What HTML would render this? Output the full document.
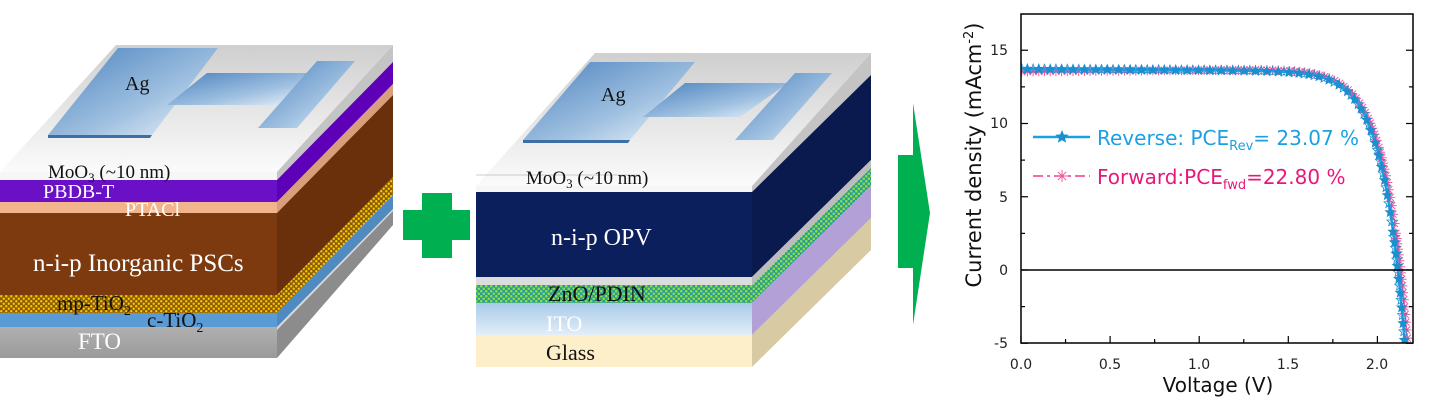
<!DOCTYPE html>
<html><head><meta charset="utf-8"><style>
html,body{margin:0;padding:0;background:#fff;width:1430px;height:406px;overflow:hidden}
svg{display:block}
.serif{font-family:"Liberation Serif",serif}
.sans{font-family:"DejaVu Sans","Liberation Sans",sans-serif}
</style></head><body>
<svg id="s" width="1430" height="406" viewBox="0 0 1430 406" xmlns="http://www.w3.org/2000/svg">
<defs>
<pattern id="chkY" width="5" height="5" patternUnits="userSpaceOnUse">
<rect width="5" height="5" fill="#8a5a08"/><circle cx="1.25" cy="1.25" r="1.2" fill="#f7c800"/><circle cx="3.75" cy="3.75" r="1.2" fill="#f7c800"/>
</pattern>
<pattern id="chkG" width="5" height="5" patternUnits="userSpaceOnUse">
<rect width="5" height="5" fill="#2a9a9a"/><circle cx="1.25" cy="1.25" r="1.3" fill="#8de040"/><circle cx="3.75" cy="3.75" r="1.3" fill="#8de040"/>
</pattern>
<linearGradient id="topG" x1="0" y1="0" x2="0" y2="1"><stop offset="0" stop-color="#cfcfcf"/><stop offset="1" stop-color="#fbfbfb"/></linearGradient>
<linearGradient id="agG" x1="0" y1="0" x2="1" y2="1"><stop offset="0" stop-color="#4b82bf"/><stop offset="0.6" stop-color="#9fc0e0"/><stop offset="1" stop-color="#f0f6fb"/></linearGradient>
<linearGradient id="itoG" x1="0" y1="0" x2="0" y2="1"><stop offset="0" stop-color="#a8cbe9"/><stop offset="1" stop-color="#e3eef8"/></linearGradient>
<linearGradient id="ftoG" x1="0" y1="0" x2="0" y2="1"><stop offset="0" stop-color="#b0b0b0"/><stop offset="1" stop-color="#9a9a9a"/></linearGradient>
<clipPath id="plot"><rect x="1021" y="14" width="392" height="329"/></clipPath>
</defs>

<!-- LEFT DEVICE -->
<polygon points="0,172 277,172 393,45 116,45" fill="url(#topG)"/>
<polygon points="277,172 393,45 393,62 277,180" fill="#c4c4c4"/>
<rect x="0" y="172" width="277" height="8" fill="#f6f6f6"/>
<polygon points="277,180 393,62 393,84 277,202" fill="#5e00b8"/>
<polygon points="277,202 393,84 393,95 277,213" fill="#d99e7a"/>
<polygon points="277,213 393,95 393,177 277,295" fill="#6a300c"/>
<polygon points="277,295 393,177 393,195 277,313" fill="url(#chkY)"/>
<polygon points="277,313 393,195 393,209 277,327" fill="#4f8ac0"/>
<polygon points="277,327 393,209 393,225 277,358" fill="#8c8c8c"/>
<polygon points="277,327 393,209 393,211 277,330" fill="#d8d8d8"/>
<rect x="0" y="180" width="277" height="22" fill="#6a10c6"/>
<rect x="0" y="202" width="277" height="11" fill="#f2b48c"/>
<rect x="0" y="213" width="277" height="82" fill="#7d3a0f"/>
<rect x="0" y="295" width="277" height="18" fill="url(#chkY)"/>
<rect x="0" y="313" width="277" height="14" fill="#5b9bd5"/>
<rect x="0" y="327" width="277" height="31" fill="url(#ftoG)"/>
<polygon points="48,135 118,48 218,48 152,135" fill="url(#agG)"/>
<polygon points="48,135 152,135 150,138 48,138" fill="#3d6fa6"/>
<polygon points="167,105 207,73 313,73 277,105" fill="url(#agG)"/>
<polygon points="258,128 317,61 355,61 297,128" fill="url(#agG)"/>
<text x="125" y="90" class="serif" font-size="20" fill="#111">Ag</text>
<text x="48" y="178" class="serif" font-size="19" fill="#111">MoO<tspan font-size="13" dy="4">3</tspan><tspan dy="-4"> (~10 nm)</tspan></text>
<text x="43" y="198" class="serif" font-size="20" fill="#fff">PBDB-T</text>
<text x="125" y="216" class="serif" font-size="20" fill="#fff">PTACl</text>
<text x="33" y="271" class="serif" font-size="25" fill="#fff">n-i-p Inorganic PSCs</text>
<text x="57" y="310" class="serif" font-size="21" fill="#111">mp-TiO<tspan font-size="14" dy="5">2</tspan></text>
<text x="147" y="327" class="serif" font-size="21" fill="#111">c-TiO<tspan font-size="14" dy="5">2</tspan></text>
<text x="78" y="349" class="serif" font-size="23" fill="#fff">FTO</text>

<!-- PLUS -->
<rect x="403" y="210" width="67" height="30" fill="#00b050"/>
<rect x="422" y="193" width="30" height="65" fill="#00b050"/>

<!-- MIDDLE DEVICE -->
<polygon points="476,186 752,186 871,53 595,53" fill="url(#topG)"/>
<polygon points="752,186 871,53 871,75 752,192" fill="#c4c4c4"/>
<rect x="476" y="186" width="276" height="6" fill="#f6f6f6"/>
<line x1="476" y1="175" x2="640" y2="175" stroke="#999" stroke-width="0.6"/>
<polygon points="752,192 871,75 871,160 752,277" fill="#0a1a4f"/>
<polygon points="752,277 871,160 871,168 752,285" fill="#bcbcbc"/>
<polygon points="752,285 871,168 871,186 752,303" fill="url(#chkG)"/>
<polygon points="752,303 871,186 871,218 752,335" fill="#b2a0d6"/>
<polygon points="752,335 871,218 871,250 752,367" fill="#d8cba4"/>
<rect x="476" y="192" width="276" height="85" fill="#0b1f5c"/>
<rect x="476" y="277" width="276" height="8" fill="#dcdcdc"/>
<rect x="476" y="285" width="276" height="18" fill="url(#chkG)"/>
<rect x="476" y="303" width="276" height="32" fill="url(#itoG)"/>
<rect x="476" y="335" width="276" height="32" fill="#fcefca"/>
<polygon points="523,140 590,62 695,62 630,140" fill="url(#agG)"/>
<polygon points="523,140 630,140 628,143 523,143" fill="#3d6fa6"/>
<polygon points="643,117 685,83 788,83 740,117" fill="url(#agG)"/>
<polygon points="735,140 795,73 832,73 773,140" fill="url(#agG)"/>
<text x="601" y="101" class="serif" font-size="20" fill="#111">Ag</text>
<text x="526" y="184" class="serif" font-size="19" fill="#111">MoO<tspan font-size="13" dy="4">3</tspan><tspan dy="-4"> (~10 nm)</tspan></text>
<text x="551" y="245" class="serif" font-size="24" fill="#fff">n-i-p OPV</text>
<text x="548" y="301" class="serif" font-size="22" fill="#111">ZnO/PDIN</text>
<text x="546" y="331" class="serif" font-size="22" fill="#fff">ITO</text>
<text x="546" y="360" class="serif" font-size="22" fill="#111">Glass</text>

<!-- ARROW -->
<polygon points="898,155 913,155 913,103 930,213 913,325 913,268 898,268" fill="#00b050"/>

<!-- CHART -->
<g id="curves" clip-path="url(#plot)"></g>
<line x1="1021" y1="270" x2="1413" y2="270" stroke="#000" stroke-width="1.5"/>
<rect x="1021" y="14" width="392" height="329" fill="none" stroke="#000" stroke-width="1.5"/>
<g id="ticks" stroke="#000" stroke-width="1.2"></g>
<g class="sans" font-size="14" fill="#222">
<text x="1021" y="369" text-anchor="middle">0.0</text>
<text x="1110" y="369" text-anchor="middle">0.5</text>
<text x="1199" y="369" text-anchor="middle">1.0</text>
<text x="1288" y="369" text-anchor="middle">1.5</text>
<text x="1377" y="369" text-anchor="middle">2.0</text>
<text x="1008" y="348" text-anchor="end">-5</text>
<text x="1008" y="275" text-anchor="end">0</text>
<text x="1008" y="202" text-anchor="end">5</text>
<text x="1008" y="128" text-anchor="end">10</text>
<text x="1008" y="55" text-anchor="end">15</text>
</g>
<text x="1218" y="392" text-anchor="middle" class="sans" font-size="20" fill="#111">Voltage (V)</text>
<text transform="translate(981,155) rotate(-90)" text-anchor="middle" class="sans" font-size="21" fill="#111">Current density (mAcm<tspan font-size="13" dy="-8">-2</tspan><tspan dy="8">)</tspan></text>
<line x1="1033" y1="137" x2="1090" y2="137" stroke="#1ba1e2" stroke-width="2.5"/>
<line x1="1033" y1="176" x2="1090" y2="176" stroke="#ef3c8a" stroke-width="1.5" stroke-dasharray="10,4,3,4"/>
<g id="legm"></g>
<text x="1097" y="145" class="sans" font-size="20" fill="#1ba1e2">Reverse: PCE<tspan font-size="13" dy="5">Rev</tspan><tspan dy="-5">= 23.07 %</tspan></text>
<text x="1097" y="184" class="sans" font-size="20" fill="#e6197a">Forward:PCE<tspan font-size="13" dy="5">fwd</tspan><tspan dy="-5">=22.80 %</tspan></text>
</svg>
<script>
(function(){
var NS="http://www.w3.org/2000/svg";
function X(v){return 1021+v*178.2;} function Y(j){return 270-j*14.65;}
function el(t,a,p){var e=document.createElementNS(NS,t);for(var k in a)e.setAttribute(k,a[k]);p.appendChild(e);return e;}
var cg=document.getElementById("curves");
function jr(v){return 13.72-0.08*v-13.6*Math.exp((v-2.115)/0.124);}
function jf(v){return 13.55+0.1*v-13.75*Math.exp((v-2.13)/0.13);}
function pts(f,vmax){var a=[];for(var v=0;v<=vmax;v+=0.004)a.push([X(v),Y(f(v))]);return a;}
function star(x,y,r,p,c,fill){var s="";for(var i=0;i<10;i++){var rr=i%2?r*0.45:r;var an=-Math.PI/2+i*Math.PI/5;s+=(i?"L":"M")+(x+rr*Math.cos(an)).toFixed(1)+","+(y+rr*Math.sin(an)).toFixed(1);}el("path",{d:s+"Z",fill:fill,stroke:c,"stroke-width":0.8},p);}
function ast(x,y,r,p,c){var s="";for(var i=0;i<4;i++){var an=i*Math.PI/4;s+="M"+(x-r*Math.cos(an)).toFixed(1)+","+(y-r*Math.sin(an)).toFixed(1)+"L"+(x+r*Math.cos(an)).toFixed(1)+","+(y+r*Math.sin(an)).toFixed(1);}el("path",{d:s,stroke:c,"stroke-width":1,fill:"none"},p);}
function markers(a,step,fn){var acc=step;for(var i=1;i<a.length;i++){var dx=a[i][0]-a[i-1][0],dy=a[i][1]-a[i-1][1];acc+=Math.sqrt(dx*dx+dy*dy);if(acc>=step){acc=0;fn(a[i][0],a[i][1]);}}}
var pf=pts(jf,2.18),pr=pts(jr,2.17);
el("path",{d:"M"+pf.map(function(p){return p[0].toFixed(1)+","+p[1].toFixed(1)}).join("L"),fill:"none",stroke:"#ef3c8a","stroke-width":1.5,"stroke-dasharray":"10,4,3,4"},cg);
markers(pf,5,function(x,y){ast(x,y,5,cg,"#ef5aa0");});
el("path",{d:"M"+pr.map(function(p){return p[0].toFixed(1)+","+p[1].toFixed(1)}).join("L"),fill:"none",stroke:"#1ba1e2","stroke-width":2.5},cg);
var k=0;markers(pr,5,function(x,y){star(x,y,5,cg,"#1b8fd0",(k++%2)?"#1b8fd0":"none");});
var lg=document.getElementById("legm");star(1062,137,6,lg,"#1b8fd0","#1b8fd0");ast(1062,176,6,lg,"#ef5aa0");
var tg=document.getElementById("ticks");
for(var v=0;v<=2.2;v+=0.25){var big=Math.abs(v*2-Math.round(v*2))<0.01;el("line",{x1:X(v),y1:343,x2:X(v),y2:343-(big?7:4)},tg);}
for(var j=-5;j<=17;j+=2.5){var big=j%5==0;el("line",{x1:1021,y1:Y(j),x2:1021+(big?7:4),y2:Y(j)},tg);el("line",{x1:1413,y1:Y(j),x2:1413-(big?7:4),y2:Y(j)},tg);}
})();
</script>
</body></html>
